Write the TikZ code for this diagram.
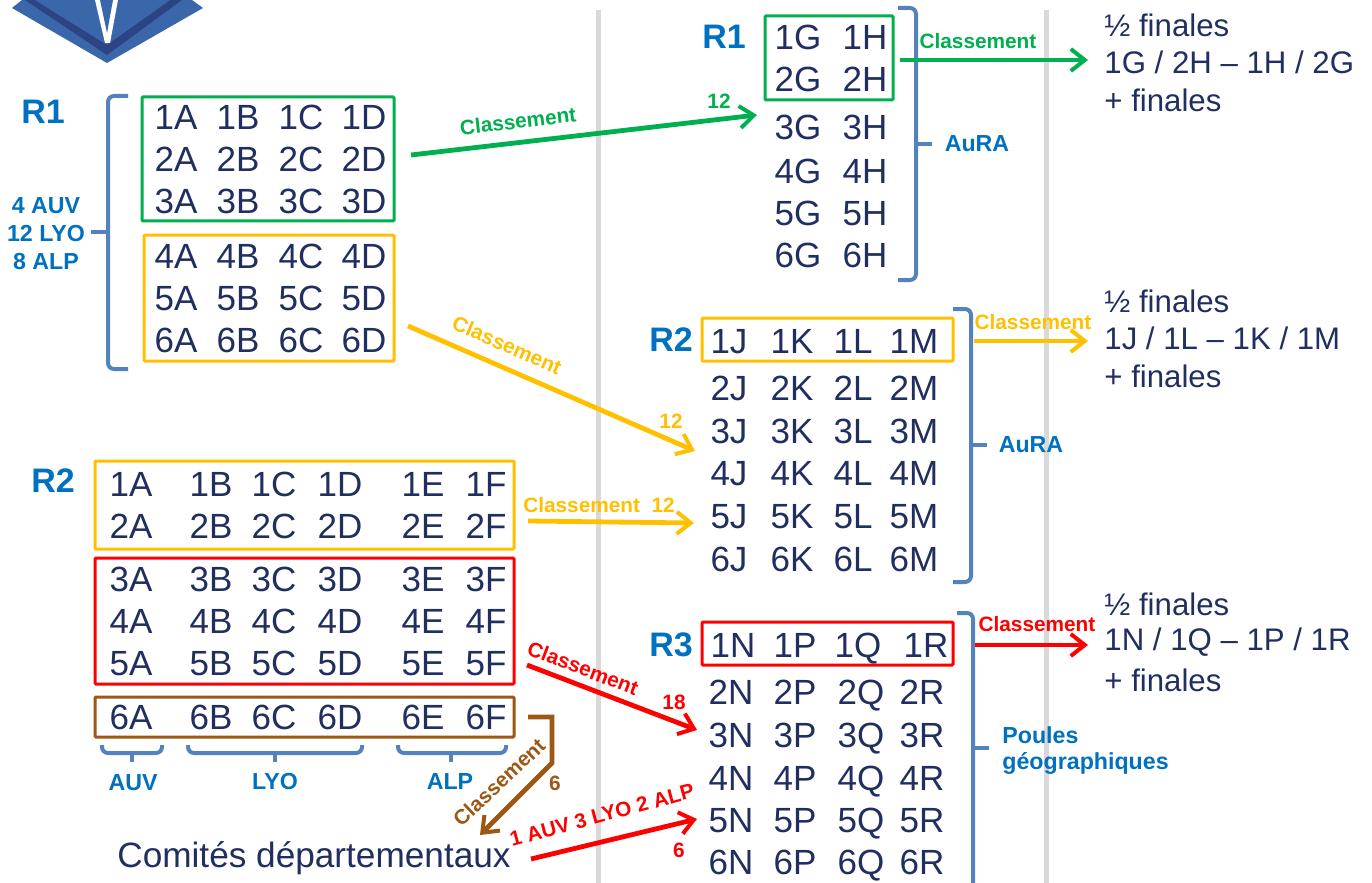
\documentclass[tikz,border=0pt]{standalone}
\usepackage{fontspec}
\setmainfont{Liberation Sans}
\usetikzlibrary{arrows.meta,fit}
\definecolor{navy}{RGB}{32,46,96}
\definecolor{clblue}{RGB}{0,112,192}
\definecolor{brace}{RGB}{84,130,190}
\definecolor{clgreen}{RGB}{0,176,80}
\definecolor{clyellow}{RGB}{255,192,0}
\definecolor{clred}{RGB}{255,0,0}
\definecolor{clbrown}{RGB}{156,87,20}
\definecolor{sep}{RGB}{217,217,217}
\definecolor{logolight}{RGB}{58,102,170}
\definecolor{logodark}{RGB}{44,68,132}
\tikzset{
  cell/.style={text=navy,font=\fontsize{17.5}{20}\selectfont,inner sep=0pt,text height=12.5pt,text depth=0pt},
  line/.style={text=navy,font=\fontsize{15.6}{18}\selectfont,inner sep=0pt,anchor=west},
  round/.style={text=clblue,font=\bfseries\fontsize{17}{20}\selectfont,inner sep=0pt},
  note/.style={text=clblue,font=\bfseries\fontsize{11.6}{14}\selectfont,inner sep=0pt},
  lab/.style={font=\bfseries\fontsize{10.4}{12}\selectfont,inner sep=0pt},
  groupbox/.style={draw,line width=1.5pt,inner sep=0pt,rounded corners=0.5pt},
  bracket/.style={draw=brace,line width=2pt,rounded corners=3pt},
  arr/.style={line width=2.4pt,-{Straight Barb[length=7pt,width=11pt,line width=2pt]}},
}
\begin{document}
\begin{tikzpicture}[x=0.5pt,y=-0.5pt]
    \useasboundingbox (0,0) rectangle (1372,883);

    % logo
    \fill[logolight] (22,0) -- (12,8) -- (107,63) -- (203,8) -- (192,0) -- cycle;
    \fill[logodark] (25,0) -- (107,55) -- (182,0) -- cycle;
    \fill[logolight] (35,0) -- (107,45) -- (170,0) -- cycle;
    \fill[white] (95,0) -- (105,43) -- (110,43) -- (118,0) -- cycle;
    \fill[logolight] (100,0) -- (107,33) -- (113,0) -- cycle;

    % separators
    \draw[sep,line width=2.5pt] (598,10) -- (598,883);
    \draw[sep,line width=2.5pt] (1046,10) -- (1046,883);

    % groups
    \node[groupbox,draw=clgreen,fit={(142,97)(394,221)}] (boxAtop) {};
    \node[groupbox,draw=clyellow,fit={(144,235)(394,361)}] (boxAbot) {};
    \node[groupbox,draw=clyellow,fit={(95,461)(514,549)}] (boxByellow) {};
    \node[groupbox,draw=clred,fit={(95,558)(514,684)}] (boxBred) {};
    \node[groupbox,draw=clbrown,fit={(95,697)(514,737)}] (boxBbrown) {};
    \node[groupbox,draw=clgreen,fit={(765,16)(893,100)}] (boxGH) {};
    \node[groupbox,draw=clyellow,fit={(702,318)(953,361)}] (boxJM) {};
    \node[groupbox,draw=clred,fit={(702,622)(953,665)}] (boxNR) {};

    \foreach \r/\y in {1/117,2/159,3/201,4/256,5/298,6/340}
      \foreach \c/\x in {A/176,B/238,C/301,D/364}
        \node[cell] (a\r\c) at (\x,\y) {\r\c};
    \foreach \r/\y in {1/484,2/526,3/579,4/621,5/663,6/717}
      \foreach \c/\x in {A/131,B/211,C/274,D/340,E/423,F/486}
        \node[cell] (b\r\c) at (\x,\y) {\r\c};
    \foreach \r/\y in {1/37,2/79,3/127,4/171,5/213,6/255}
      \foreach \c/\x in {G/798,H/865}
        \node[cell] (c\r\c) at (\x,\y) {\r\c};
    \foreach \r/\y in {1/341,2/388,3/431,4/473,5/516,6/559}
      \foreach \c/\x in {J/729,K/792,L/853,M/914}
        \node[cell] (d\r\c) at (\x,\y) {\r\c};
    \foreach \c/\x in {N/733,P/795,Q/858,R/926}
      \node[cell] (e1\c) at (\x,645) {1\c};
    \foreach \r/\y in {2/692,3/735,4/778,5/820,6/862}
      \foreach \c/\x in {N/731,P/795,Q/861,R/922}
        \node[cell] (e\r\c) at (\x,\y) {\r\c};

    % round titles
    \node[round] (titleA) at (43,112) {R1};
    \node[round] (titleB) at (53,481) {R2};
    \node[round] (titleC) at (724,37) {R1};
    \node[round] (titleD) at (671,340) {R2};
    \node[round] (titleE) at (671,645) {R3};

    % brackets
    \draw[bracket] (128,96) -- (108,96) -- (108,369) -- (128,369);
    \draw[bracket] (108,232) -- (91,232);
    \draw[bracket] (898,8) -- (916,8) -- (916,280) -- (898,280);
    \draw[bracket] (916,144) -- (932,144);
    \draw[bracket] (953,309) -- (971,309) -- (971,582) -- (953,582);
    \draw[bracket] (971,445) -- (987,445);
    \draw[bracket] (957,613) -- (973,613) -- (973,883);
    \draw[bracket] (973,748) -- (989,748);
    \draw[bracket] (102,745) -- (102,753) -- (162,753) -- (162,745);
    \draw[bracket] (132,753) -- (132,762);
    \draw[bracket] (188,745) -- (188,753) -- (362,753) -- (362,745);
    \draw[bracket] (275,753) -- (275,762);
    \draw[bracket] (398,745) -- (398,753) -- (506,753) -- (506,745);
    \draw[bracket] (451,753) -- (451,762);

    % bracket notes
    \node[note] (noteauv) at (46,206) {4 AUV};
    \node[note] (notelyo) at (46,234) {12 LYO};
    \node[note] (notealp) at (46,262) {8 ALP};
    \node[note] (auraC) at (977,144) {AuRA};
    \node[note] (auraD) at (1031,445) {AuRA};
    \node[note,anchor=west] (poules) at (1002,735) {Poules};
    \node[note,anchor=west] (geo) at (1002,763) {géographiques};
    \node[note] (subauv) at (133,783) {AUV};
    \node[note] (sublyo) at (275,782) {LYO};
    \node[note] (subalp) at (450,782) {ALP};

    % results
    \node[line] (demiG) at (1104,25) {½ finales};
    \node[line] (matchG) at (1104,62) {1G / 2H – 1H / 2G};
    \node[line] (finG) at (1104,100) {+ finales};
    \node[line] (demiJ) at (1104,301) {½ finales};
    \node[line] (matchJ) at (1104,338) {1J / 1L – 1K / 1M};
    \node[line] (finJ) at (1104,376) {+ finales};
    \node[line] (demiN) at (1104,604) {½ finales};
    \node[line] (matchN) at (1104,642) {1N / 1Q – 1P / 1R};
    \node[line] (finN) at (1104,680) {+ finales};
    \node[text=navy,font=\fontsize{17.6}{20}\selectfont,inner sep=0pt] (comites) at (314,858) {Comités départementaux};

    % arrow ends
    \coordinate (gfrom) at (411,155);
    \coordinate (gto) at (757,115);
    \coordinate (gfromR) at (900,60);
    \coordinate (gtoR) at (1088,60);
    \coordinate (yfrom) at (408,326);
    \coordinate (yto) at (695,451);
    \coordinate (yfromB) at (528,521);
    \coordinate (ytoB) at (694,523);
    \coordinate (yfromR) at (974,341);
    \coordinate (ytoR) at (1088,341);
    \coordinate (rfrom) at (527,665);
    \coordinate (rto) at (697,730);
    \coordinate (rfromC) at (531,859);
    \coordinate (rtoC) at (697,819);
    \coordinate (rfromR) at (975,645);
    \coordinate (rtoR) at (1088,645);
    \coordinate (bfrom) at (528,717);
    \coordinate (bknee) at (552,717);
    \coordinate (bbend) at (552,763);
    \coordinate (bto) at (480,835);

    \draw[arr,clgreen] (gfrom) -- (gto);
    \draw[arr,clgreen] (gfromR) -- (gtoR);
    \draw[arr,clyellow] (yfrom) -- (yto);
    \draw[arr,clyellow] (yfromB) -- (ytoB);
    \draw[arr,clyellow] (yfromR) -- (ytoR);
    \draw[arr,clred] (rfrom) -- (rto);
    \draw[arr,clred] (rfromC) -- (rtoC);
    \draw[arr,clred] (rfromR) -- (rtoR);
    \draw[arr,clbrown] (bfrom) -- (bknee) -- (bbend) -- (bto);

    % arrow labels
    \node[lab,text=clgreen,rotate=6.6] (lg) at (518,121) {Classement};
    \node[lab,text=clgreen] (lg12) at (719,101) {12};
    \node[lab,text=clgreen] (lgR) at (978,41) {Classement};
    \node[lab,text=clyellow,rotate=-23.6] (ly) at (507,345) {Classement};
    \node[lab,text=clyellow] (ly12) at (671,421) {12};
    \node[lab,text=clyellow] (lyB) at (599,505) {Classement\ \ 12};
    \node[lab,text=clyellow] (lyR) at (1033,322) {Classement};
    \node[lab,text=clred,rotate=-21] (lr) at (583,668) {Classement};
    \node[lab,text=clred] (lr18) at (674,702) {18};
    \node[lab,text=clred] (lrR) at (1037,624) {Classement};
    \node[lab,text=clred,rotate=15] (lrC) at (602,815) {1 AUV 3 LYO 2 ALP};
    \node[lab,text=clred] (lr6) at (679,850) {6};
    \node[lab,text=clbrown,rotate=43] (lb) at (499,782) {Classement};
    \node[lab,text=clbrown] (lb6) at (555,783) {6};
\end{tikzpicture}
\end{document}
